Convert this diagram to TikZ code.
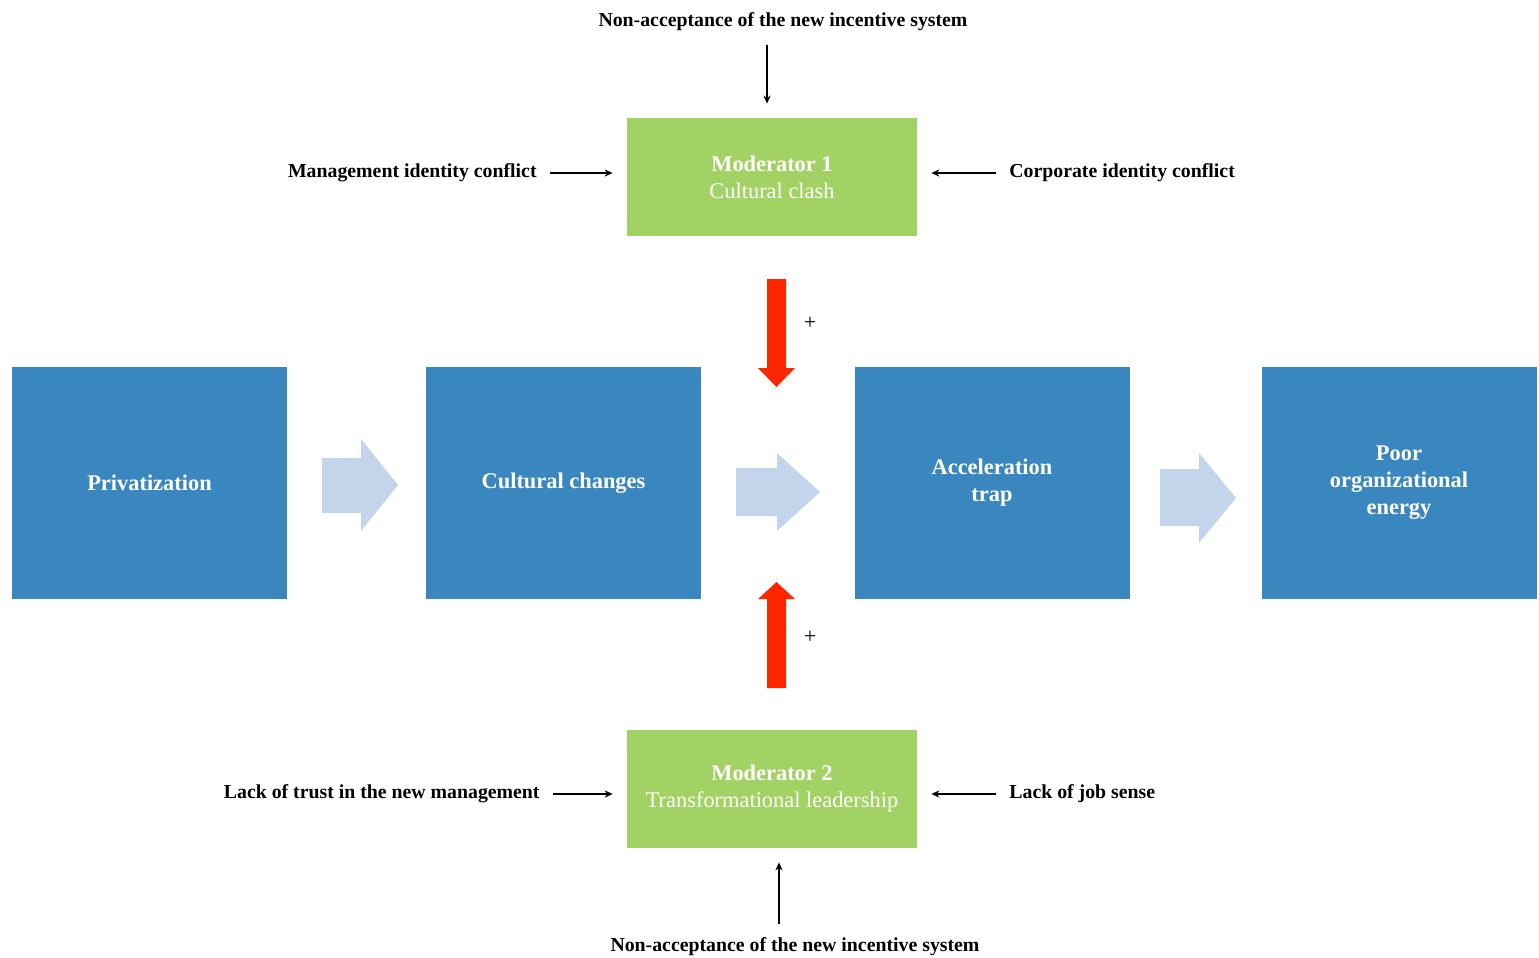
\documentclass[tikz,border=0pt]{standalone}
\usepackage{fontspec}
\setmainfont{Liberation Serif}
\usetikzlibrary{arrows.meta}
\definecolor{boxblue}{RGB}{58,135,192}
\definecolor{modgreen}{RGB}{162,210,100}
\definecolor{flowblue}{RGB}{195,213,235}
\definecolor{pushred}{RGB}{255,38,0}

\begin{document}
\begin{tikzpicture}[x=0.5pt, y=-0.5pt, >={Stealth[length=4pt,width=3.6pt]},
  stage/.style={fill=boxblue, text=white, font=\fontsize{11.2}{13.5}\selectfont\bfseries,
    minimum width=137.5pt, minimum height=116pt, align=center, inner sep=0pt},
  moderator/.style={fill=modgreen, text=white, font=\fontsize{11.2}{13.5}\selectfont,
    minimum width=145pt, minimum height=59pt, align=center, inner sep=0pt},
  factor/.style={font=\fontsize{9.9}{12}\selectfont\bfseries, inner sep=0pt},
  link/.style={->, line width=0.6pt, shorten <=6.5pt, shorten >=7pt}]
  \useasboundingbox (0,0) rectangle (1539,958);

  % Main chain
  \node[stage] (priv) at (149.5,483) {Privatization};
  \node[stage] (cult) at (563.5,483) {Cultural changes};
  \node[stage] (accel) at (992,483) {Acceleration\\trap};
  \node[stage] (poor) at (1399,483) {Poor\\organizational\\energy};

  % Flow arrows between stages
  \fill[flowblue] (322,458) -- (361,458) -- (361,439) -- (398,485) -- (361,531) -- (361,513) -- (322,513) -- cycle;
  \fill[flowblue] (736,468) -- (777,468) -- (777,453) -- (820,492) -- (777,531) -- (777,516) -- (736,516) -- cycle;
  \fill[flowblue] (1160,469) -- (1199,469) -- (1199,453) -- (1236,498) -- (1199,543) -- (1199,526) -- (1160,526) -- cycle;

  % Moderators
  \node[moderator] (mod1) at (772,177) {\textbf{Moderator 1}\\Cultural clash};
  \node[moderator] (mod2) at (772,789) {\textbf{Moderator 2}\\Transformational leadership};

  % Red push arrows
  \fill[pushred] (767,279) -- (786,279) -- (786,368) -- (795,368) -- (776.5,387) -- (758,368) -- (767,368) -- cycle;
  \fill[pushred] (767,688) -- (786,688) -- (786,599) -- (795,599) -- (776.5,582) -- (758,599) -- (767,599) -- cycle;
  \node[font=\fontsize{11}{11}\selectfont] (plus1) at (810,323) {+};
  \node[font=\fontsize{11}{11}\selectfont] (plus2) at (810,637) {+};

  % Factors of moderator 1
  \node[factor] (nacc1) at (783,22) {Non-acceptance of the new incentive system};
  \node[factor, anchor=east] (mgmt) at (537,173) {Management identity conflict};
  \node[factor, anchor=west] (corp) at (1009,173) {Corporate identity conflict};
  \draw[link] ([xshift=-8pt]nacc1.south) -- ([xshift=-2.5pt]mod1.north);
  \draw[link] (mgmt.east) -- (mgmt.east -| mod1.west);
  \draw[link] (corp.west) -- (corp.west -| mod1.east);

  % Factors of moderator 2
  \node[factor] (nacc2) at (795,947) {Non-acceptance of the new incentive system};
  \node[factor, anchor=east] (trust) at (540,794) {Lack of trust in the new management};
  \node[factor, anchor=west] (sense) at (1009,794) {Lack of job sense};
  \draw[link] ([xshift=-8pt]nacc2.north) -- ([xshift=3.5pt]mod2.south);
  \draw[link] (trust.east) -- (trust.east -| mod2.west);
  \draw[link] (sense.west) -- (sense.west -| mod2.east);
\end{tikzpicture}
\end{document}
